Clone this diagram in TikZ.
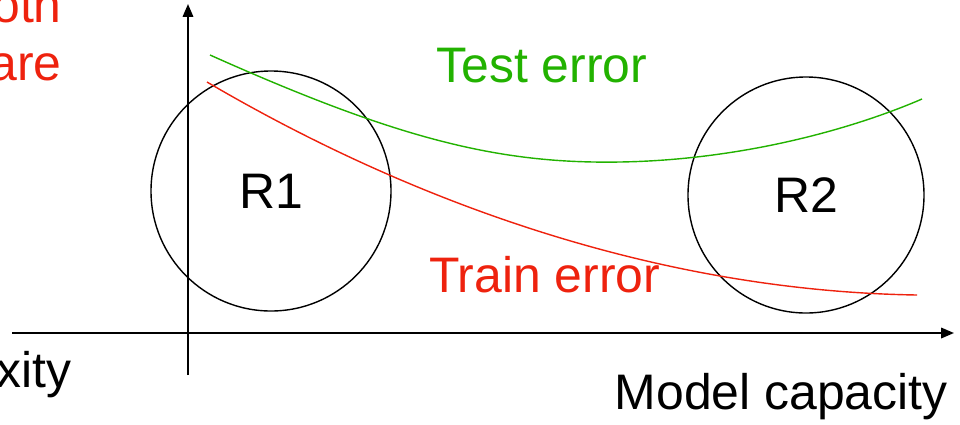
\documentclass[tikz,border=0pt]{standalone}
\usepackage{fontspec}
\setmainfont{Liberation Sans}
\usepackage{xcolor}
\usetikzlibrary{positioning,calc,arrows.meta}
\definecolor{testgreen}{RGB}{34,178,0}
\definecolor{trainred}{RGB}{238,34,14}
\tikzset{
    lbl/.style={font=\fontsize{35.5}{42}\selectfont, inner sep=0pt},
    region/.style={draw, line width=1pt, circle, minimum size=240*0.025cm, inner sep=0pt},
    axisline/.style={line width=1.4pt, -{Triangle[length=0.32cm, width=0.26cm]}}
}
\begin{document}
\begin{tikzpicture}[x=0.025cm, y=-0.025cm]
    \useasboundingbox (0, 0) rectangle (960, 424);
    \clip (0, 0) rectangle (960, 424);
    % axes
    \coordinate (xstart) at (12, 333);
    \coordinate (xend) at (954, 333);
    \coordinate (ystart) at (188, 375);
    \coordinate (yend) at (188, 4);
    \draw [axisline] (xstart) -- (xend);
    \draw [axisline] (ystart) -- (yend);
    % regions
    \node [region] (r1) at (271, 191) {};
    \node [region, minimum size=236*0.025cm] (r2) at (806, 195) {};
    \node [lbl] at (r1) {R1};
    \node [lbl] at (r2) {R2};
    % curves
    \draw [testgreen, line width=1pt] (210, 55) .. controls (400, 140) and (500, 164) .. (620, 162)
        .. controls (740, 160) and (850, 130) .. (922, 99); % Test error
    \draw [trainred, line width=1pt] (207, 82) .. controls (340, 160) and (600, 290) .. (917, 295); % Train error
    \node [lbl, testgreen, anchor=base west] (test) at (436, 82) {Test error};
    \node [lbl, trainred, anchor=base west] (train) at (429, 292) {Train error};
    \node [lbl, anchor=base east] (xlabel) at (948, 409) {Model capacity};
    % cut-off texts on the left
    \node [lbl, trainred, anchor=base east] (top1) at (62, 22) {oth};
    \node [lbl, trainred, anchor=base east] (top2) at (62, 80) {are};
    \node [lbl, anchor=base east] (left1) at (72, 387) {xity};
\end{tikzpicture}
\end{document}
